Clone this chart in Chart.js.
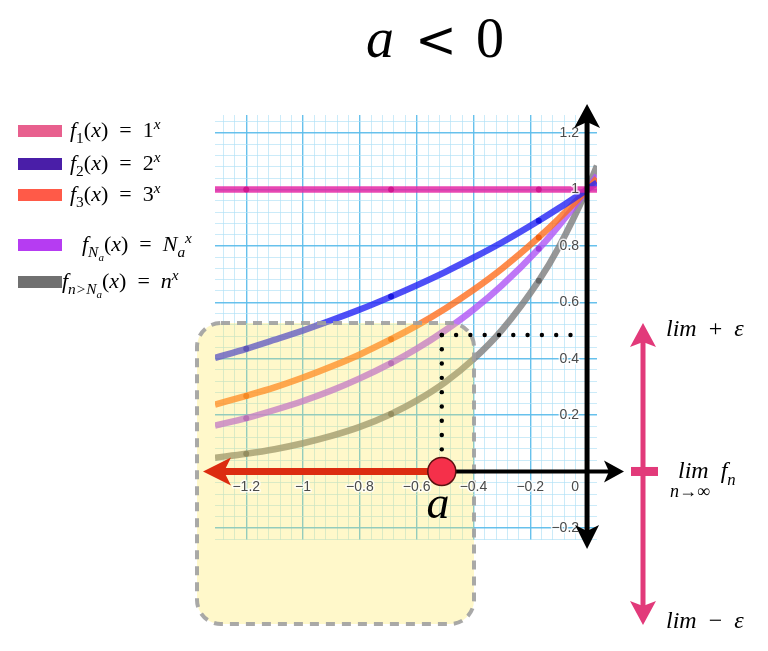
<!DOCTYPE html>
<html>
<head>
<meta charset="utf-8">
<script src="https://cdn.jsdelivr.net/npm/chart.js@4.4.1/dist/chart.umd.min.js"></script>
<style>
html,body{margin:0;padding:0;background:#fff;}
#wrap{width:768px;height:651px;position:relative;}
canvas{display:block;}
</style>
</head>
<body>
<div id="wrap"><canvas id="c" width="768" height="651"></canvas></div>
<script>
// ---- data ----
const xValues  = [-1.31, -1.2, -1.1, -1.0, -0.9, -0.8, -0.69, -0.6, -0.5, -0.4, -0.3, -0.17, -0.1, 0, 0.035];
const f1Values = [1, 1, 1, 1, 1, 1, 1, 1, 1, 1, 1, 1, 1, 1, 1];
const f2Values = [0.403, 0.435, 0.467, 0.5, 0.536, 0.574, 0.620, 0.660, 0.707, 0.758, 0.812, 0.889, 0.933, 1.0, 1.024];
const f3Values = [0.237, 0.268, 0.298, 0.333, 0.372, 0.415, 0.469, 0.517, 0.577, 0.644, 0.719, 0.830, 0.896, 1.0, 1.039];
const fNaValues = [0.163, 0.189, 0.218, 0.25, 0.287, 0.33, 0.384, 0.435, 0.5, 0.574, 0.66, 0.790, 0.871, 1.0, 1.050];
const fnValues = [0.049, 0.063, 0.079, 0.1, 0.126, 0.158, 0.204, 0.251, 0.316, 0.398, 0.501, 0.676, 0.794, 1.0, 1.084];
const markedX = [-1.2, -0.69, -0.17];

const xTickValues = [-1.2, -1, -0.8, -0.6, -0.4, -0.2, 0];
const xTickLabels = ['\u22121.2', '\u22121', '\u22120.8', '\u22120.6', '\u22120.4', '\u22120.2', '0'];
const yTickValues = [1.2, 1, 0.8, 0.6, 0.4, 0.2, -0.2];
const yTickLabels = ['1.2', '1', '0.8', '0.6', '0.4', '0.2', '\u22120.2'];

const aValue = -0.515;      // position of point a on the x axis
const limLevel = 0.484;     // dotted guide level

const seriesNames = ['f1(x) = 1^x', 'f2(x) = 2^x', 'f3(x) = 3^x', 'fNa(x) = Na^x', 'fn>Na(x) = n^x'];
const lineColors = ['rgba(228,40,165,0.85)', 'rgba(40,40,245,0.82)', 'rgba(255,110,30,0.8)', 'rgba(175,85,245,0.8)', 'rgba(125,125,125,0.8)'];
const dotColors  = ['#d0188f', '#1818e0', '#f06010', '#9a40e0', '#666'];
const legendColors = ['#e8608e', '#4a1ea8', '#ff5a48', '#b63cf2', '#707070'];
const seriesValues = [f1Values, f2Values, f3Values, fNaValues, fnValues];

function pts(vals){ return xValues.map((x,i)=>({x:x, y:vals[i]})); }

const datasets = seriesValues.map((vals, k) => ({
  label: seriesNames[k],
  data: pts(vals),
  showLine: true,
  borderColor: lineColors[k],
  borderWidth: 6.5,
  cubicInterpolationMode: 'monotone',
  pointRadius: c => markedX.some(m => Math.abs(m - c.raw.x) < 1e-9) ? 3 : 0,
  pointBackgroundColor: dotColors[k],
  pointBorderWidth: 0,
  borderCapStyle: 'butt'
}));

// ---- helpers ----
const SERIF = '"Liberation Serif", "DejaVu Serif", serif';
function rich(ctx, x, y, segs, size, align){
  // segs: [text, italic?, mode]  mode: '', 'sub', 'subsub', 'sup'
  const parts = segs.map(s => {
    let sz = size, dy = 0;
    if (s[2] === 'sub') { sz = size*0.7; dy = size*0.28; }
    else if (s[2] === 'subsub') { sz = size*0.5; dy = size*0.45; }
    else if (s[2] === 'sup') { sz = size*0.7; dy = -size*0.38; }
    const font = (s[1] ? 'italic ' : '') + sz + 'px ' + SERIF;
    ctx.font = font;
    return {t:s[0], font:font, dy:dy, w:ctx.measureText(s[0]).width};
  });
  const total = parts.reduce((a,p)=>a+p.w,0);
  let cx = align === 'center' ? x - total/2 : x;
  ctx.textBaseline = 'alphabetic';
  ctx.textAlign = 'left';
  parts.forEach(p => { ctx.font = p.font; ctx.fillText(p.t, cx, y + p.dy); cx += p.w; });
}

function roundRect(ctx, x, y, w, h, r){
  ctx.beginPath();
  ctx.moveTo(x+r, y);
  ctx.lineTo(x+w-r, y); ctx.arcTo(x+w, y, x+w, y+r, r);
  ctx.lineTo(x+w, y+h-r); ctx.arcTo(x+w, y+h, x+w-r, y+h, r);
  ctx.lineTo(x+r, y+h); ctx.arcTo(x, y+h, x, y+h-r, r);
  ctx.lineTo(x, y+r); ctx.arcTo(x, y, x+r, y, r);
  ctx.closePath();
}

function arrowHead(ctx, tipX, tipY, dirX, dirY, len, half, notch, color){
  const px = -dirY, py = dirX;
  const bx = tipX - dirX*len, by = tipY - dirY*len;
  ctx.fillStyle = color;
  ctx.beginPath();
  ctx.moveTo(tipX, tipY);
  ctx.lineTo(bx + px*half, by + py*half);
  ctx.lineTo(tipX - dirX*(len-notch), tipY - dirY*(len-notch));
  ctx.lineTo(bx - px*half, by - py*half);
  ctx.closePath();
  ctx.fill();
}

const overlay = {
  id: 'overlay',
  afterDatasetsDraw(chart){
    const ctx = chart.ctx;
    const xs = chart.scales.x, ys = chart.scales.y;
    const x0 = xs.getPixelForValue(0), y0 = ys.getPixelForValue(0);
    const ax = xs.getPixelForValue(aValue);
    const ly = ys.getPixelForValue(limLevel);
    ctx.save();

    // yellow rounded region
    roundRect(ctx, 197, 323, 277, 301, 24);
    ctx.fillStyle = 'rgba(255,232,80,0.30)';
    ctx.fill();
    ctx.setLineDash([9, 7]);
    ctx.lineWidth = 4;
    ctx.strokeStyle = 'rgba(160,160,160,0.9)';
    ctx.stroke();
    ctx.setLineDash([]);

    // tick labels
    ctx.font = '14px "Liberation Sans", Arial, sans-serif';
    ctx.lineJoin = 'round';
    ctx.textBaseline = 'middle';
    xTickValues.forEach((v, i) => {
      let px = xs.getPixelForValue(v);
      if (v === 0) px -= 12;
      ctx.textAlign = 'center';
      ctx.lineWidth = 3; ctx.strokeStyle = 'rgba(255,255,255,0.8)';
      ctx.strokeText(xTickLabels[i], px, y0 + 16);
      ctx.fillStyle = '#4a4a4a';
      ctx.fillText(xTickLabels[i], px, y0 + 16);
    });
    yTickValues.forEach((v, i) => {
      const py = ys.getPixelForValue(v);
      ctx.textAlign = 'right';
      ctx.lineWidth = 3; ctx.strokeStyle = 'rgba(255,255,255,0.8)';
      ctx.strokeText(yTickLabels[i], x0 - 8, py);
      ctx.fillStyle = '#4a4a4a';
      ctx.fillText(yTickLabels[i], x0 - 8, py);
    });

    // dotted guides
    ctx.fillStyle = '#000';
    for (let y = ly; y < y0 - 12; y += 14.3) { ctx.beginPath(); ctx.arc(ax + 1, y, 2.2, 0, Math.PI*2); ctx.fill(); }
    for (let x = ax + 1; x < x0 - 3; x += 14.3) { ctx.beginPath(); ctx.arc(x, ly, 2.2, 0, Math.PI*2); ctx.fill(); }

    // y axis arrow
    ctx.strokeStyle = '#000'; ctx.lineWidth = 5;
    ctx.beginPath(); ctx.moveTo(x0, 122); ctx.lineTo(x0, 532); ctx.stroke();
    arrowHead(ctx, x0, 104, 0, -1, 24, 13, 6, '#000');
    arrowHead(ctx, x0, 549, 0, 1, 24, 12, 6, '#000');

    // x axis arrow (right part)
    ctx.lineWidth = 4;
    ctx.beginPath(); ctx.moveTo(ax, y0); ctx.lineTo(612, y0); ctx.stroke();
    arrowHead(ctx, 624, y0, 1, 0, 20, 11, 5, '#000');

    // red arrow (left part)
    ctx.strokeStyle = '#dc2c10'; ctx.lineWidth = 7;
    ctx.beginPath(); ctx.moveTo(ax, y0); ctx.lineTo(222, y0); ctx.stroke();
    arrowHead(ctx, 203, y0, -1, 0, 28, 14, 7, '#dc2c10');

    // point a
    ctx.beginPath(); ctx.arc(ax + 1, y0, 14, 0, Math.PI*2);
    ctx.fillStyle = '#f5304a'; ctx.fill();
    ctx.lineWidth = 1.5; ctx.strokeStyle = '#5a1010'; ctx.stroke();

    // pink epsilon arrow
    const pc = '#e23a7a';
    ctx.strokeStyle = pc; ctx.lineWidth = 5;
    ctx.beginPath(); ctx.moveTo(643, 340); ctx.lineTo(643, 608); ctx.stroke();
    arrowHead(ctx, 643, 323, 0, -1, 24, 13, 5, pc);
    arrowHead(ctx, 643, 625, 0, 1, 24, 13, 5, pc);
    ctx.fillStyle = pc;
    ctx.fillRect(631, y0 - 4.5, 27, 9);

    // title  a < 0
    ctx.fillStyle = '#000';
    ctx.textBaseline = 'alphabetic';
    ctx.textAlign = 'left';
    ctx.font = 'italic 56px ' + SERIF;
    ctx.fillText('a', 366, 57);
    ctx.font = '50px "DejaVu Serif", serif';
    ctx.textAlign = 'center';
    ctx.fillText('<', 436, 57);
    ctx.font = '56px ' + SERIF;
    ctx.textAlign = 'left';
    ctx.fillText('0', 476, 57);

    rich(ctx, 438, 518, [['a', true, '']], 46, 'center');
    rich(ctx, 666, 336, [['lim', true, ''], ['\u2002+\u2002', false, ''], ['\u03b5', true, '']], 24);
    rich(ctx, 666, 628, [['lim', true, ''], ['\u2002\u2212\u2002', false, ''], ['\u03b5', true, '']], 24);
    rich(ctx, 678, 478, [['lim', true, ''], ['\u2002', false, ''], ['f', true, ''], ['n', true, 'sub']], 24);
    rich(ctx, 670, 497, [['n', true, ''], ['\u2192', false, ''], ['\u221e', false, '']], 18);

    // legend
    const L = [
      {y:131, tx:70, segs:[['f',true,''],['1',false,'sub'],['(',false,''],['x',true,''],[')\u2002=\u20021',false,''],['x',true,'sup']]},
      {y:164, tx:70, segs:[['f',true,''],['2',false,'sub'],['(',false,''],['x',true,''],[')\u2002=\u20022',false,''],['x',true,'sup']]},
      {y:195, tx:70, segs:[['f',true,''],['3',false,'sub'],['(',false,''],['x',true,''],[')\u2002=\u20023',false,''],['x',true,'sup']]},
      {y:245, tx:82, segs:[['f',true,''],['N',true,'sub'],['a',true,'subsub'],['(',false,''],['x',true,''],[')\u2002=\u2002',false,''],['N',true,''],['a',true,'sub'],['x',true,'sup']]},
      {y:282, tx:62, segs:[['f',true,''],['n>N',true,'sub'],['a',true,'subsub'],['(',false,''],['x',true,''],[')\u2002=\u2002',false,''],['n',true,''],['x',true,'sup']]}
    ];
    L.forEach((it, k) => {
      ctx.fillStyle = legendColors[k];
      ctx.fillRect(18, it.y - 6, 44, 12);
      ctx.fillStyle = '#000';
      rich(ctx, it.tx, it.y + 6, it.segs, 22);
    });
    ctx.restore();
  }
};

function gridColor(c, major, minor){
  const v = c.tick.value;
  const r5 = v / 0.2, r25 = v / 0.04;
  if (Math.abs(r5 - Math.round(r5)) < 1e-6) return major;
  if (Math.abs(r25 - Math.round(r25)) < 1e-6) return minor;
  return 'rgba(0,0,0,0)';
}

new Chart(document.getElementById('c').getContext('2d'), {
  type: 'scatter',
  data: { datasets: datasets },
  options: {
    responsive: false,
    animation: false,
    events: [],
    layout: { padding: { left: 215, right: 171, top: 115, bottom: 111 } },
    plugins: { legend: { display: false }, tooltip: { enabled: false } },
    scales: {
      x: {
        type: 'linear', min: -1.31, max: 0.035,
        ticks: { display: false },
        border: { display: false },
        afterBuildTicks: s => { const t = []; for (let i = -32; i <= 0; i++) t.push({value: Math.round(i*4)/100}); s.ticks = t; },
        grid: { drawTicks: false,
          color: c => gridColor(c, 'rgba(95,190,235,0.95)', 'rgba(175,225,246,0.65)'),
          lineWidth: c => gridColor(c, 1.4, 1) }
      },
      y: {
        type: 'linear', min: -0.243, max: 1.264,
        ticks: { display: false },
        border: { display: false },
        afterBuildTicks: s => { const t = []; for (let i = -6; i <= 31; i++) t.push({value: Math.round(i*4)/100}); s.ticks = t; },
        grid: { drawTicks: false,
          color: c => gridColor(c, 'rgba(95,190,235,0.95)', 'rgba(175,225,246,0.65)'),
          lineWidth: c => gridColor(c, 1.4, 1) }
      }
    }
  },
  plugins: [overlay]
});
</script>
</body>
</html>
